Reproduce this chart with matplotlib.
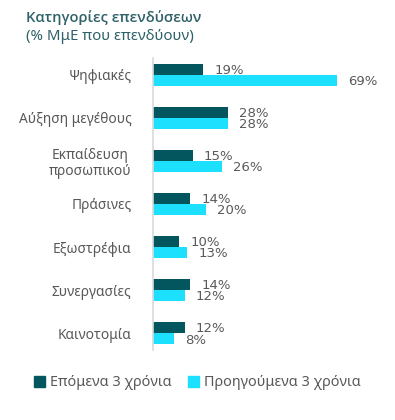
import matplotlib
matplotlib.use("Agg")
import matplotlib.pyplot as plt
from matplotlib.patches import Patch

categories = ["Ψηφιακές", "Αύξηση μεγέθους", "Εκπαίδευση\nπροσωπικού", "Πράσινες",
              "Εξωστρέφια", "Συνεργασίες", "Καινοτομία"]
next3 = [19, 28, 15, 14, 10, 14, 12]
prev3 = [69, 28, 26, 20, 13, 12, 8]
series_names = ["Επόμενα 3 χρόνια", "Προηγούμενα 3 χρόνια"]
title = "Κατηγορίες επενδύσεων"
subtitle = "(% ΜμΕ που επενδύουν)"

dark = "#03565e"
light = "#1de0fe"
txt = "#595959"
teal_txt = "#2f6169"

plt.rcParams['font.family'] = ['Noto Sans', 'DejaVu Sans']

W, H = 395, 420
fig = plt.figure(figsize=(W/100, H/100), dpi=100)
ax_left = 152.5 / W
ax = fig.add_axes([ax_left, 1 - 350/H, 1 - ax_left, (350 - 58)/H])

pos = list(range(len(categories)))
bh = 0.245
ax.barh([p - bh/2 for p in pos], next3, height=bh, color=dark)
ax.barh([p + bh/2 for p in pos], prev3, height=bh, color=light)

numfont = dict(family=['DejaVu Sans'], fontsize=9.5, color=txt)
for p, a, b in zip(pos, next3, prev3):
    ax.annotate(f"{a}%", (a, p - bh/2 + 0.02), xytext=(8, 0), textcoords="offset points",
                ha="left", va="center", **numfont)
    ax.annotate(f"{b}%", (b, p + bh/2 + 0.04), xytext=(8, 0), textcoords="offset points",
                ha="left", va="center", **numfont)

ax.set_xlim(0, (W - 152.5) / 2.68)
ax.set_ylim(6.395, -0.395)
ax.set_yticks(pos)
ax.set_yticklabels(categories, fontsize=9.9, color=txt, linespacing=1.1,
                   multialignment='center')
ax.tick_params(axis='y', length=0, pad=15)
ax.set_xticks([])
for s in ["top", "right", "bottom"]:
    ax.spines[s].set_visible(False)
ax.spines["left"].set_color("#d9d9d9")
ax.spines["left"].set_linewidth(1.2)

fig.text(26/W, 1 - 18/H, title, fontsize=10.6, fontweight="semibold", color=teal_txt, va="center",
         family=['Open Sans', 'DejaVu Sans'])
fig.text(26/W, 1 - 37/H, subtitle, fontsize=10.8, color=teal_txt, va="center")

handles = [Patch(color=dark), Patch(color=light)]
fig.legend(handles, series_names, loc="center", bbox_to_anchor=(0.5, 1 - 383/H), ncol=2,
           frameon=False, fontsize=10.4, labelcolor=txt, handlelength=0.75, handleheight=0.75,
           handletextpad=0.35, columnspacing=1.1)

fig.savefig("out.png", dpi=100)
